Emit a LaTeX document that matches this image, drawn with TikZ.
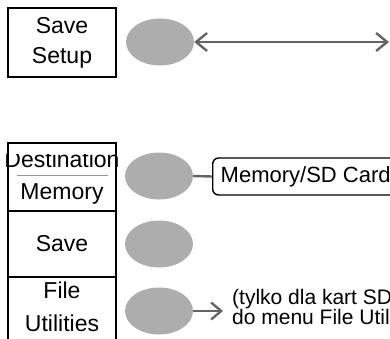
\documentclass[tikz,border=0pt]{standalone}
\usepackage{fontspec}
\setmainfont{Liberation Sans}
\definecolor{btngray}{RGB}{173,173,173}
\definecolor{linegray}{RGB}{100,100,100}
\definecolor{rulegray}{RGB}{150,150,150}
\usetikzlibrary{arrows.meta,positioning,shapes.geometric}
\tikzset{
  menukey/.style={draw, line width=1.5pt, minimum width=108pt, inner sep=0pt,
                  align=center, font=\fontsize{23}{30}\selectfont},
  keytext/.style={inner sep=0pt, font=\fontsize{23}{30}\selectfont, align=center},
  softbtn/.style={ellipse, fill=btngray, minimum width=68pt, minimum height=47pt,
                  inner sep=0pt},
  callout/.style={draw, line width=1.4pt, rounded corners=6pt, anchor=west,
                  font=\fontsize{22}{25}\selectfont, inner xsep=8pt, minimum height=37pt},
  note/.style={font=\fontsize{21}{15}\selectfont, align=left, anchor=west,
               inner ysep=0pt, inner xsep=9pt},
  link/.style={linegray, line width=2.4pt},
}

\begin{document}
\begin{tikzpicture}[x=1pt, y=-1pt]
\useasboundingbox (0,0) rectangle (390,339);
\clip (0,0) rectangle (390,339);

% --- Save Setup key ---
\node[menukey, minimum height=69pt] (setupkey) at (62,42.5) {Save\\Setup};
\node[softbtn] (setupbtn) at (160,42) {};
\coordinate (setupend) at (389,42);
\draw[link, {Straight Barb[length=11pt,width=18pt]}-{Straight Barb[length=11pt,width=18pt]}]
  (setupbtn.east) -- (setupend);

% --- Save menu keys ---
\node[menukey, minimum height=68pt] (destkey) at (62,177) {};
\begin{scope}
  \clip (0,154) rectangle (130,200);
  \node[keytext, anchor=base] (desttitle) at (62,167) {Destination};
\end{scope}
\draw[rulegray, line width=1pt] (17,175) -- (108,175);
\node[keytext, anchor=base] (desttext) at (62,199) {Memory};
\node[menukey, minimum height=66pt] (savekey) at (62,244) {Save};
\node[menukey, minimum height=68pt] (filekey) at (62,311) {};
\node[keytext, anchor=base] (filetext) at (62,298) {File};
\node[keytext, anchor=base] (utiltext) at (62,331) {Utilities};

% Soft buttons
\node[softbtn] (destbtn) at (159,176) {};
\node[softbtn] (savebtn) at (159,244) {};
\node[softbtn] (filebtn) at (159,311) {};

% Destination choice
\node[callout] (cardbox) at (212,176.5) {Memory/SD Card};
\draw[link] (destbtn.east) -- (cardbox.west);

% File Utilities hint
\node[note] (filenote) at (223,307) {(tylko dla kart SD\\do menu File Util};
\draw[link, -{Straight Barb[length=10pt,width=17pt]}] (filebtn.east) -- (filebtn.east -| filenote.west);

\end{tikzpicture}
\end{document}
